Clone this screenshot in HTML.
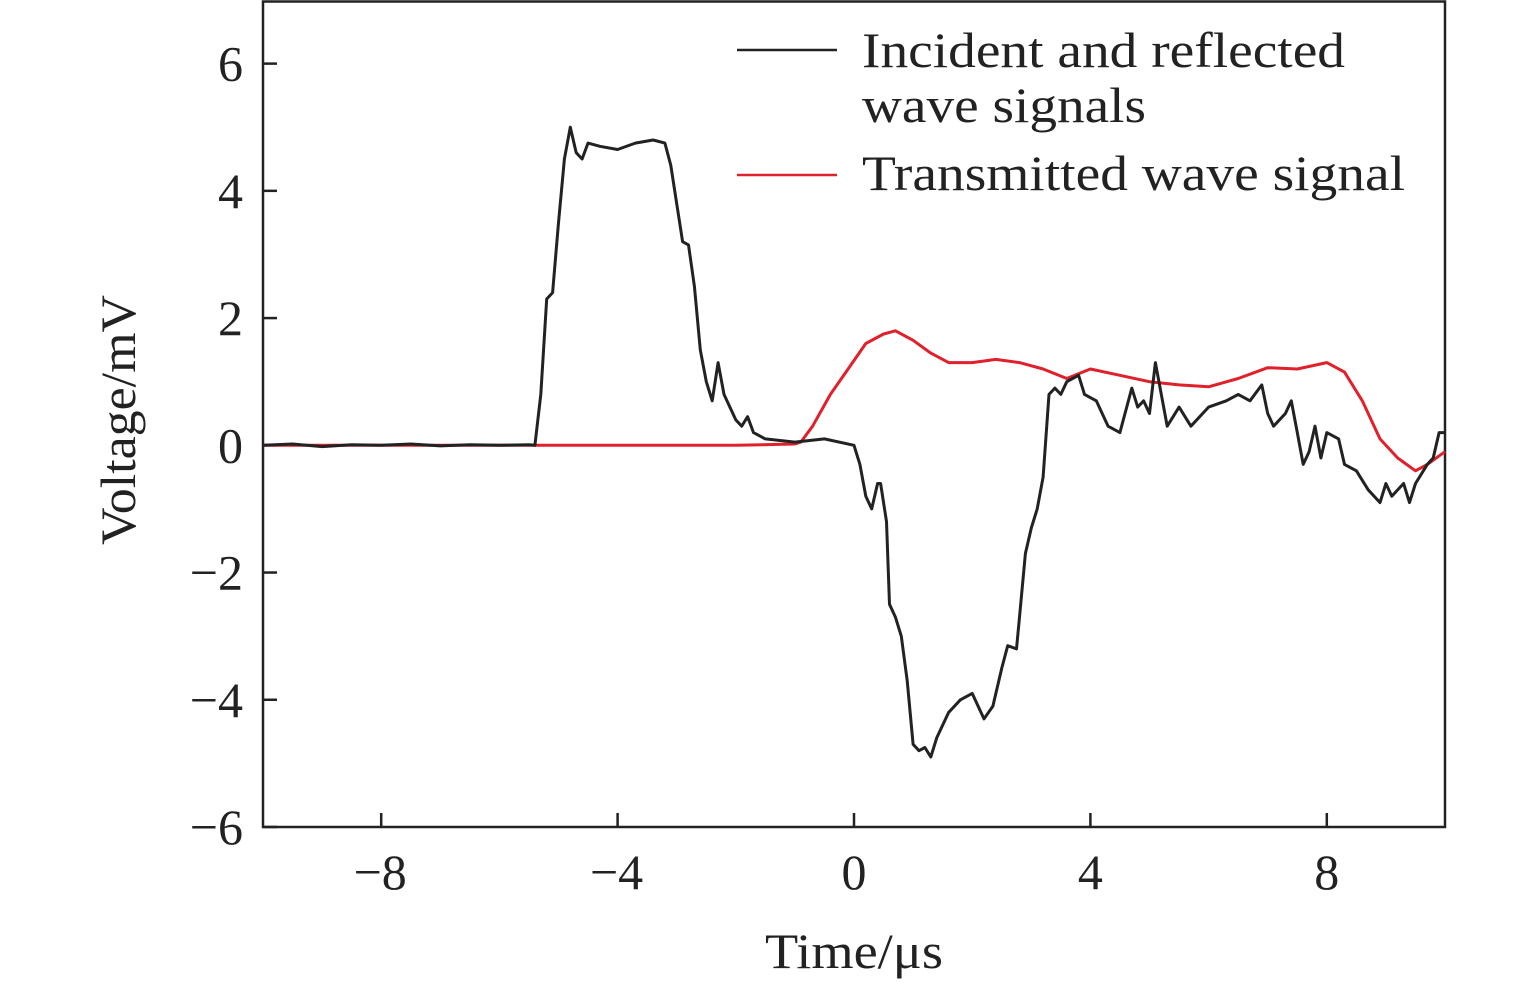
<!DOCTYPE html>
<html><head><meta charset="utf-8"><style>
body{margin:0;background:#fff}
svg{display:block;font-family:"Liberation Serif",serif}
</style></head><body>
<svg width="1535" height="986">
<g id="axes"></g>
<g id="series"></g>
<g>
<line x1="737" y1="50" x2="837" y2="50" stroke="#222" stroke-width="2.5"/>
<text x="862" y="67" font-size="50" fill="#222" textLength="483" lengthAdjust="spacingAndGlyphs">Incident and reflected</text>
<text x="862" y="122" font-size="50" fill="#222" textLength="284" lengthAdjust="spacingAndGlyphs">wave signals</text>
<line x1="737" y1="175" x2="837" y2="175" stroke="#e0202a" stroke-width="2.5"/>
<text x="862" y="190" font-size="50" fill="#222" textLength="543" lengthAdjust="spacingAndGlyphs">Transmitted wave signal</text>
</g>
<text x="765" y="968" font-size="50" fill="#222" textLength="178" lengthAdjust="spacingAndGlyphs">Time/μs</text>
<text transform="translate(135,545) rotate(-90)" font-size="50" fill="#222" textLength="250" lengthAdjust="spacingAndGlyphs">Voltage/mV</text>
</svg>
<script>
const xTicks=[-8,-4,0,4,8];
const yTicks=[-6,-4,-2,0,2,4,6];
const blackT=[-10,-9.5,-9,-8.5,-8,-7.5,-7,-6.5,-6,-5.5,-5.4,-5.3,-5.2,-5.1,-5.0,-4.9,-4.8,-4.7,-4.6,-4.5,-4.3,-4.0,-3.7,-3.4,-3.2,-3.1,-3.0,-2.9,-2.8,-2.7,-2.6,-2.5,-2.4,-2.3,-2.2,-2.0,-1.9,-1.8,-1.7,-1.5,-1.0,-0.5,0,0.1,0.2,0.3,0.4,0.45,0.55,0.6,0.7,0.8,0.9,1.0,1.1,1.2,1.3,1.4,1.6,1.8,2.0,2.1,2.2,2.35,2.5,2.6,2.75,2.8,2.9,3.0,3.1,3.2,3.3,3.4,3.5,3.6,3.8,3.9,4.1,4.3,4.5,4.7,4.8,4.9,5.0,5.1,5.2,5.3,5.5,5.7,6.0,6.3,6.5,6.7,6.9,7.0,7.1,7.3,7.4,7.5,7.6,7.7,7.8,7.9,8.0,8.2,8.3,8.5,8.7,8.9,9.0,9.1,9.3,9.4,9.5,9.7,9.8,9.9,10];
const blackV=[0,0.02,-0.02,0.01,0,0.02,-0.01,0.01,0,0.01,0,0.8,2.3,2.4,3.5,4.5,5.0,4.6,4.5,4.75,4.7,4.65,4.75,4.8,4.75,4.4,3.8,3.2,3.15,2.5,1.5,1.0,0.7,1.3,0.8,0.4,0.3,0.45,0.2,0.1,0.05,0.1,0.0,-0.3,-0.8,-1.0,-0.6,-0.6,-1.2,-2.5,-2.7,-3.0,-3.7,-4.7,-4.8,-4.75,-4.9,-4.6,-4.2,-4.0,-3.9,-4.1,-4.3,-4.1,-3.5,-3.15,-3.2,-2.7,-1.7,-1.3,-1.0,-0.5,0.8,0.9,0.8,1.0,1.1,0.8,0.7,0.3,0.2,0.9,0.6,0.7,0.5,1.3,0.8,0.3,0.6,0.3,0.6,0.7,0.8,0.7,0.95,0.5,0.3,0.5,0.7,0.2,-0.3,-0.1,0.3,-0.2,0.2,0.1,-0.3,-0.4,-0.7,-0.9,-0.6,-0.8,-0.6,-0.9,-0.6,-0.3,-0.2,0.2,0.2];
const redT=[-10,-8,-6,-4,-2,-1,-0.9,-0.7,-0.4,-0.1,0.2,0.5,0.7,1.0,1.3,1.6,2.0,2.4,2.8,3.2,3.6,4.0,4.5,5.0,5.5,6.0,6.5,7.0,7.5,8.0,8.3,8.6,8.9,9.2,9.5,9.7,10];
const redV=[0,0,0,0,0,0.02,0.05,0.3,0.8,1.2,1.6,1.75,1.8,1.65,1.45,1.3,1.3,1.35,1.3,1.2,1.05,1.2,1.1,1.0,0.95,0.92,1.05,1.22,1.2,1.3,1.15,0.7,0.1,-0.2,-0.4,-0.3,-0.1];
const L=263,R=1445,T=0,B=827,xmin=-10,xmax=10,ymin=-6,ymax=7;
const sx=v=>L+(v-xmin)/(xmax-xmin)*(R-L);
const sy=v=>B-(v-ymin)/(ymax-ymin)*(B-T);
const NS='http://www.w3.org/2000/svg';
const ax=document.getElementById('axes'),se=document.getElementById('series');
function mk(tag,attrs,parent){const e=document.createElementNS(NS,tag);for(const k in attrs)e.setAttribute(k,attrs[k]);parent.appendChild(e);return e;}
const frame=mk('rect',{x:L,y:1.5,width:R-L,height:B-1.5,fill:'none',stroke:'#222','stroke-width':2.5},ax);


xTicks.forEach(v=>{
 const t=mk('line',{x1:sx(v),x2:sx(v),y1:B,y2:B-14,stroke:'#222','stroke-width':2.5},ax);
 
 
 const s=mk('text',{x:sx(v)-(v<0?1:0),y:889,'font-size':50,'text-anchor':'middle',fill:'#222'},ax);
 s.textContent=v<0?'\u2212'+(-v):String(v);
 
 
});
yTicks.forEach(v=>{
 const t=mk('line',{x1:L,x2:L+14,y1:sy(v),y2:sy(v),stroke:'#222','stroke-width':2.5},ax);
 
 
 const s=mk('text',{x:243,y:sy(v)+17,'font-size':50,'text-anchor':'end',fill:'#222'},ax);
 s.textContent=v<0?'\u2212'+(-v):String(v);
 
 
});
function line(ts,vs,color,name){
 const d=ts.map((t,i)=>(i?'L':'M')+sx(t).toFixed(1)+','+sy(vs[i]).toFixed(1)).join('');
 const p=mk('path',{d:d,fill:'none',stroke:color,'stroke-width':3,'stroke-linejoin':'round'},se);
 
 
}
line(redT,redV,'#e0202a','transmitted-wave-line');
line(blackT,blackV,'#222','incident-reflected-wave-line');
</script>
</body></html>
